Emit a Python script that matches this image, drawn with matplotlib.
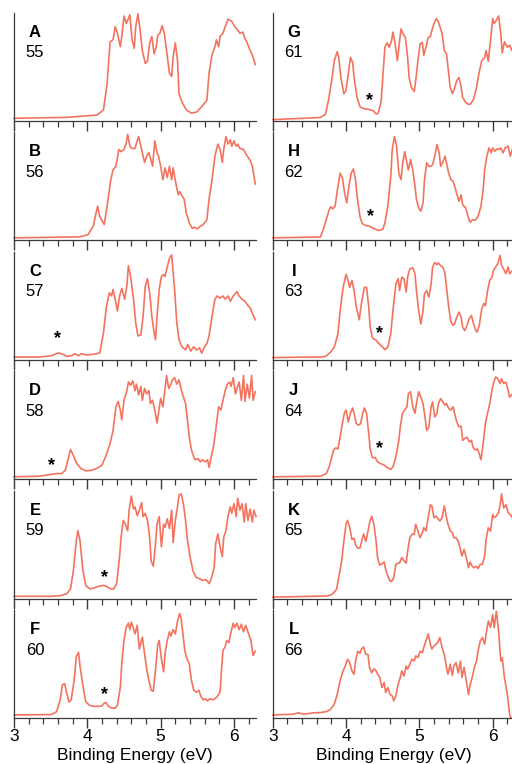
import matplotlib
matplotlib.use("Agg")
import matplotlib.pyplot as plt
from matplotlib.ticker import MultipleLocator

plt.rcParams['font.family'] = ['Liberation Sans', 'DejaVu Sans']

# panel letters and cluster sizes
letters = ["A", "B", "C", "D", "E", "F", "G", "H", "I", "J", "K", "L"]
sizes = [55, 56, 57, 58, 59, 60, 61, 62, 63, 64, 65, 66]

# spectra: binding energy (eV) and relative intensity
a_e = [3.00, 3.72, 4.13, 4.22, 4.27, 4.31, 4.35, 4.38, 4.41, 4.45, 4.47, 4.50, 4.53, 4.55, 4.58, 4.61, 4.64, 4.66, 4.69, 4.72, 4.75, 4.79, 4.82, 4.85, 4.88, 4.91, 4.94, 4.96, 4.99, 5.02, 5.05, 5.08, 5.12, 5.15, 5.17, 5.20, 5.23, 5.25, 5.30, 5.35, 5.42, 5.49, 5.56, 5.63, 5.66, 5.70, 5.74, 5.76, 5.79, 5.81, 5.85, 5.88, 5.92, 5.97, 6.01, 6.05, 6.08, 6.12, 6.15, 6.18, 6.22, 6.25, 6.29]
a_i = [2.2, 3.1, 5.2, 9.9, 34.6, 73, 75, 87, 81, 68.5, 78, 97, 90, 93, 98, 75, 67, 87, 99, 84, 65, 53, 55, 72, 78, 62, 68.5, 79, 81, 88, 81, 65, 44, 41, 59, 72, 56, 25, 16, 10, 7, 8, 13, 19, 44, 61, 68.5, 75, 68.5, 78, 81, 87, 94, 92, 87, 84, 81, 82, 76, 72, 65, 61, 52]

b_e = [3.00, 3.90, 4.01, 4.08, 4.14, 4.17, 4.23, 4.27, 4.32, 4.35, 4.39, 4.43, 4.46, 4.50, 4.53, 4.55, 4.58, 4.61, 4.65, 4.67, 4.70, 4.73, 4.75, 4.78, 4.81, 4.84, 4.86, 4.89, 4.92, 4.95, 4.97, 5.00, 5.03, 5.06, 5.09, 5.12, 5.15, 5.17, 5.20, 5.24, 5.26, 5.29, 5.32, 5.35, 5.39, 5.43, 5.46, 5.50, 5.54, 5.58, 5.63, 5.66, 5.70, 5.74, 5.78, 5.81, 5.84, 5.86, 5.89, 5.92, 5.95, 5.97, 6.00, 6.03, 6.05, 6.08, 6.13, 6.17, 6.22, 6.25, 6.29]
b_i = [2.2, 3.1, 5.2, 13, 31.5, 22, 14.5, 31.5, 56, 65, 68.5, 84, 82, 84, 90, 98, 87, 85, 85, 90, 96, 87, 81, 72, 78, 81, 76, 68.5, 92, 81, 78, 68.5, 56, 67, 58, 68.5, 56, 67, 55, 42, 45, 41, 38, 25, 16, 11, 12, 10.5, 13, 14.5, 19, 38, 56, 78, 89, 84, 72, 84, 96, 89, 93, 87, 92, 87, 89, 85, 84, 79, 74, 68.5, 52]

c_e = [3.00, 3.35, 3.51, 3.60, 3.65, 3.72, 3.79, 3.83, 3.88, 3.92, 3.99, 4.10, 4.17, 4.22, 4.26, 4.30, 4.33, 4.35, 4.38, 4.41, 4.44, 4.47, 4.51, 4.54, 4.56, 4.59, 4.63, 4.66, 4.69, 4.73, 4.76, 4.79, 4.82, 4.85, 4.88, 4.91, 4.93, 4.95, 4.98, 5.01, 5.04, 5.06, 5.09, 5.12, 5.15, 5.16, 5.19, 5.22, 5.25, 5.29, 5.34, 5.37, 5.41, 5.45, 5.49, 5.53, 5.56, 5.59, 5.63, 5.66, 5.70, 5.74, 5.77, 5.81, 5.85, 5.88, 5.92, 5.95, 5.99, 6.04, 6.07, 6.11, 6.15, 6.18, 6.22, 6.25, 6.29]
c_i = [2.5, 2.5, 3.7, 6.2, 5.6, 3.1, 3.7, 5.6, 3.7, 5.6, 4.3, 5.2, 6.2, 25, 49, 62, 59, 65, 56, 45, 59, 66, 56, 69, 87, 77, 56, 34, 22, 23, 40, 68, 75, 62, 40, 25, 18.5, 40, 65, 77, 79, 77, 86, 94, 97, 89, 65, 34, 18.5, 12, 9, 14, 8, 12, 9, 11, 6, 11, 15, 22, 40, 56, 59, 57, 59, 56, 59, 54, 59, 63, 59, 56, 54, 51, 48, 43, 37]

d_e = [3.00, 3.35, 3.49, 3.58, 3.65, 3.70, 3.74, 3.77, 3.81, 3.85, 3.91, 3.98, 4.06, 4.13, 4.20, 4.25, 4.31, 4.35, 4.39, 4.42, 4.45, 4.47, 4.50, 4.54, 4.56, 4.59, 4.62, 4.65, 4.67, 4.70, 4.73, 4.75, 4.78, 4.81, 4.84, 4.86, 4.89, 4.92, 4.95, 4.97, 5.00, 5.03, 5.05, 5.08, 5.11, 5.14, 5.16, 5.19, 5.22, 5.25, 5.27, 5.30, 5.34, 5.36, 5.39, 5.42, 5.45, 5.47, 5.51, 5.54, 5.57, 5.61, 5.64, 5.66, 5.69, 5.72, 5.75, 5.79, 5.82, 5.85, 5.88, 5.91, 5.94, 5.96, 5.99, 6.02, 6.05, 6.07, 6.10, 6.13, 6.15, 6.18, 6.21, 6.24, 6.26, 6.29]
d_i = [2.2, 2.8, 4.3, 5.2, 5.2, 8.3, 19, 27.5, 22, 15, 10, 7.7, 8.3, 10, 13, 21, 33, 45, 67, 72, 64, 55, 73, 82, 90, 87, 91, 82, 88, 78, 86, 73, 84, 79, 82, 70, 73, 64, 52, 61, 75, 67, 78, 96, 84, 88, 92, 94, 88, 92, 86, 78, 70, 58, 39, 27, 21, 18, 19, 16, 18, 16, 18, 11, 21, 30, 45, 67, 64, 73, 82, 88, 90, 86, 94, 79, 86, 90, 73, 96, 72, 88, 75, 96, 73, 81]

e_e = [3.00, 3.49, 3.63, 3.72, 3.77, 3.81, 3.85, 3.87, 3.90, 3.94, 3.98, 4.04, 4.09, 4.15, 4.22, 4.26, 4.32, 4.36, 4.40, 4.44, 4.46, 4.49, 4.52, 4.55, 4.57, 4.60, 4.63, 4.65, 4.68, 4.71, 4.74, 4.76, 4.79, 4.82, 4.85, 4.87, 4.90, 4.93, 4.95, 4.98, 5.01, 5.04, 5.06, 5.09, 5.12, 5.15, 5.17, 5.20, 5.23, 5.25, 5.28, 5.31, 5.34, 5.36, 5.40, 5.44, 5.48, 5.53, 5.57, 5.62, 5.66, 5.69, 5.73, 5.75, 5.78, 5.81, 5.84, 5.86, 5.89, 5.92, 5.95, 5.97, 6.00, 6.03, 6.05, 6.08, 6.11, 6.14, 6.16, 6.19, 6.22, 6.25, 6.27, 6.30]
e_i = [2.2, 2.2, 2.8, 4.6, 9, 26, 54, 63, 54, 26, 12, 9, 10, 11.4, 12.3, 11.4, 9, 9, 14, 39, 57, 72.5, 69, 63, 82, 95, 83, 85, 77, 82, 89, 76, 79, 72.5, 57, 35, 30, 51, 69, 76, 48, 69, 66, 74, 65, 82, 52, 72.5, 85, 96, 97, 88, 72.5, 57, 39, 26, 20, 18.5, 17, 17.6, 14, 18.5, 29, 51, 60, 48, 39, 57, 63, 77, 85, 79, 88, 76, 93, 82, 88, 71, 88, 72.5, 83, 71, 82, 76]

f_e = [3.00, 3.51, 3.58, 3.63, 3.66, 3.69, 3.72, 3.75, 3.78, 3.82, 3.85, 3.88, 3.90, 3.95, 3.98, 4.03, 4.08, 4.15, 4.20, 4.23, 4.25, 4.29, 4.33, 4.38, 4.41, 4.45, 4.47, 4.50, 4.53, 4.56, 4.58, 4.60, 4.62, 4.65, 4.68, 4.71, 4.73, 4.75, 4.78, 4.81, 4.84, 4.87, 4.90, 4.93, 4.96, 4.98, 5.01, 5.04, 5.06, 5.09, 5.12, 5.14, 5.17, 5.20, 5.23, 5.26, 5.28, 5.30, 5.33, 5.36, 5.39, 5.42, 5.45, 5.49, 5.52, 5.55, 5.58, 5.61, 5.64, 5.67, 5.72, 5.77, 5.81, 5.83, 5.85, 5.88, 5.90, 5.93, 5.96, 5.99, 6.01, 6.04, 6.07, 6.10, 6.13, 6.16, 6.20, 6.23, 6.26, 6.29]
f_i = [3, 3.4, 6, 17, 31, 32, 23, 15, 17, 35, 57, 61, 48, 26, 15, 12, 11, 11, 11.4, 14, 14.5, 11, 9.3, 9.3, 12, 29, 51, 72, 84, 88, 82, 89, 85, 78, 86, 64, 70, 75, 60, 45, 35, 26, 25, 45, 68, 72, 55, 43, 60, 72, 80, 76, 82, 78, 90, 97, 92, 80, 62, 55, 50, 35, 26, 24, 26, 20, 17, 18, 16, 18, 17, 20, 24, 45, 63, 66, 72, 70, 80, 88, 84, 88, 82, 87, 80, 86, 78, 72, 58, 62]

g_e = [3.00, 3.51, 3.65, 3.72, 3.76, 3.81, 3.84, 3.88, 3.90, 3.93, 3.97, 4.00, 4.03, 4.06, 4.09, 4.11, 4.15, 4.19, 4.22, 4.26, 4.30, 4.33, 4.37, 4.41, 4.44, 4.48, 4.51, 4.53, 4.56, 4.59, 4.62, 4.64, 4.67, 4.70, 4.73, 4.75, 4.78, 4.81, 4.84, 4.86, 4.89, 4.93, 4.95, 4.98, 5.01, 5.04, 5.06, 5.09, 5.12, 5.15, 5.17, 5.20, 5.23, 5.26, 5.28, 5.31, 5.34, 5.37, 5.39, 5.42, 5.45, 5.47, 5.51, 5.54, 5.57, 5.59, 5.63, 5.67, 5.70, 5.74, 5.78, 5.81, 5.85, 5.89, 5.91, 5.94, 5.97, 6.00, 6.02, 6.05, 6.08, 6.11, 6.13, 6.16, 6.20, 6.23, 6.26, 6.30]
g_i = [1, 2.5, 3, 6, 18.5, 40, 55.5, 64, 58.6, 40, 25, 28, 43, 58.6, 54, 40, 21.6, 13, 11.7, 10.8, 10.8, 9.9, 9.3, 6.2, 7, 18.5, 49, 68, 72, 68, 74, 82, 71, 55.5, 74, 85, 80, 77, 58.6, 40, 31, 27, 37, 55.5, 71, 72.5, 60.5, 68, 77, 78, 83.5, 90, 94.6, 91.6, 87, 80.7, 65, 62, 49.7, 31, 25, 28, 37, 40, 31, 21.6, 17, 15, 15.5, 20, 31, 43, 55.5, 58.6, 65, 55, 74, 94.6, 90, 93, 97, 80.7, 62.7, 73, 68, 70, 65, 70]

h_e = [3.00, 3.65, 3.69, 3.73, 3.77, 3.79, 3.82, 3.85, 3.89, 3.92, 3.95, 3.98, 4.01, 4.04, 4.07, 4.10, 4.13, 4.15, 4.19, 4.22, 4.27, 4.32, 4.36, 4.41, 4.45, 4.50, 4.53, 4.57, 4.61, 4.63, 4.66, 4.69, 4.72, 4.75, 4.77, 4.80, 4.83, 4.85, 4.88, 4.91, 4.94, 4.96, 4.99, 5.02, 5.05, 5.07, 5.10, 5.13, 5.16, 5.18, 5.21, 5.24, 5.27, 5.29, 5.32, 5.35, 5.37, 5.40, 5.43, 5.46, 5.48, 5.51, 5.54, 5.57, 5.59, 5.63, 5.67, 5.69, 5.73, 5.76, 5.80, 5.84, 5.87, 5.89, 5.92, 5.95, 5.98, 6.00, 6.03, 6.06, 6.09, 6.11, 6.14, 6.17, 6.21, 6.24, 6.28]
h_i = [2.2, 3, 10, 19, 28, 31, 29, 31.5, 50, 62, 58, 44, 34.6, 50, 62, 66, 56, 40.7, 22, 15.4, 13.6, 13, 11.4, 9.9, 9, 9.9, 16, 31.5, 59, 84, 96, 87, 62, 56, 70, 82, 71.6, 65, 74.7, 65, 50, 37.7, 30, 26.9, 34.6, 56, 71.6, 68.5, 68.5, 70, 77.8, 88.6, 80.9, 68.5, 72.2, 77.8, 71.6, 62, 56, 54.6, 50, 43, 36, 42, 33, 30, 20.7, 16.7, 19, 18.5, 22, 31.5, 47, 65, 77.8, 85.5, 80.9, 85.5, 82.4, 84.6, 84, 85.5, 80.9, 85.5, 87, 77.8, 87]

i_e = [3.00, 3.65, 3.72, 3.79, 3.84, 3.89, 3.92, 3.96, 4.00, 4.02, 4.05, 4.08, 4.11, 4.14, 4.18, 4.21, 4.25, 4.28, 4.31, 4.33, 4.36, 4.41, 4.45, 4.50, 4.53, 4.57, 4.61, 4.64, 4.68, 4.71, 4.73, 4.76, 4.79, 4.82, 4.84, 4.87, 4.91, 4.94, 4.96, 4.99, 5.02, 5.05, 5.07, 5.10, 5.13, 5.16, 5.18, 5.21, 5.24, 5.26, 5.29, 5.32, 5.35, 5.37, 5.40, 5.43, 5.46, 5.48, 5.51, 5.54, 5.57, 5.59, 5.62, 5.65, 5.68, 5.71, 5.74, 5.77, 5.79, 5.82, 5.85, 5.88, 5.90, 5.93, 5.96, 5.99, 6.01, 6.04, 6.07, 6.10, 6.12, 6.15, 6.18, 6.21, 6.23, 6.27]
i_i = [2, 2.5, 3, 7, 11.7, 24, 45.7, 67, 79, 75, 67, 73.5, 64, 48.8, 37, 52, 67, 67, 48.8, 30, 20, 18, 14.8, 11.7, 9.3, 11.7, 24, 45.7, 70, 75, 64, 76.5, 75, 62.7, 76.5, 84, 85, 79.6, 64, 45.7, 33, 45.7, 61, 64, 58, 70, 85.8, 90, 88, 89.5, 87, 85.8, 79.6, 67, 48.8, 35, 31.8, 33, 39.5, 44, 39.5, 30, 27, 31.8, 38, 41, 33, 27, 25.6, 33, 47, 52, 50, 64, 73.5, 76.5, 82.7, 85.8, 89, 96.6, 87.6, 84, 79.6, 85.8, 79.6, 82.7]

j_e = [3.00, 3.65, 3.73, 3.77, 3.80, 3.83, 3.86, 3.89, 3.92, 3.95, 3.98, 4.00, 4.03, 4.06, 4.09, 4.11, 4.14, 4.17, 4.20, 4.22, 4.25, 4.28, 4.31, 4.33, 4.36, 4.40, 4.43, 4.47, 4.52, 4.56, 4.61, 4.64, 4.68, 4.72, 4.74, 4.77, 4.80, 4.83, 4.85, 4.88, 4.91, 4.94, 4.96, 4.99, 5.02, 5.05, 5.07, 5.10, 5.13, 5.16, 5.18, 5.21, 5.24, 5.26, 5.29, 5.32, 5.35, 5.37, 5.40, 5.43, 5.46, 5.48, 5.51, 5.54, 5.57, 5.59, 5.62, 5.65, 5.68, 5.71, 5.73, 5.76, 5.79, 5.81, 5.84, 5.87, 5.90, 5.93, 5.96, 5.99, 6.01, 6.04, 6.07, 6.10, 6.12, 6.15, 6.18, 6.21, 6.23, 6.27]
j_i = [2.2, 2.8, 5, 11.4, 19, 27, 29, 28, 39, 51.5, 62, 64, 53, 61, 66, 61, 51.5, 50, 51.5, 59, 66, 61, 42, 27.5, 20, 20, 16, 14.5, 13, 10.8, 9, 11.4, 20.7, 36, 48.5, 61, 64, 67, 79, 81, 67, 61, 70, 81, 76, 70, 61, 45, 48.5, 67, 71.6, 57.7, 61, 70, 74.7, 71.6, 68.5, 70, 65.4, 64, 67, 61, 53, 48.5, 49, 36, 37.7, 39, 34.6, 36, 30, 27, 28, 25, 18, 33, 51.5, 61, 70, 82.4, 88.6, 94.7, 93, 88.6, 93, 88.6, 90, 82.4, 76, 79]

k_e = [3.00, 3.51, 3.74, 3.81, 3.87, 3.90, 3.94, 3.97, 4.00, 4.02, 4.05, 4.08, 4.11, 4.13, 4.16, 4.19, 4.22, 4.24, 4.27, 4.30, 4.32, 4.35, 4.38, 4.41, 4.43, 4.46, 4.49, 4.52, 4.54, 4.57, 4.60, 4.62, 4.65, 4.68, 4.71, 4.73, 4.76, 4.79, 4.82, 4.84, 4.87, 4.90, 4.93, 4.95, 4.98, 5.01, 5.04, 5.06, 5.09, 5.12, 5.15, 5.17, 5.20, 5.23, 5.26, 5.28, 5.31, 5.34, 5.37, 5.39, 5.42, 5.45, 5.47, 5.50, 5.53, 5.56, 5.58, 5.61, 5.64, 5.67, 5.69, 5.72, 5.75, 5.78, 5.80, 5.83, 5.86, 5.89, 5.91, 5.94, 5.97, 6.00, 6.02, 6.05, 6.08, 6.11, 6.12, 6.15, 6.18, 6.21, 6.24, 6.28]
k_i = [1.5, 2.2, 2.5, 4, 8.6, 19.4, 35, 53, 69, 72.5, 66, 55, 56, 50, 46.6, 47, 55, 60, 53, 62.7, 70, 76.5, 69, 53, 38, 31, 32.4, 34, 27, 21, 16.4, 15.7, 19.4, 31.8, 33, 33, 38, 35, 33, 44, 56.5, 59.6, 59.6, 69, 62.7, 56.5, 61, 65.7, 62.7, 75, 87, 86, 75, 76.5, 73.5, 72, 75, 86, 75, 69, 63, 61, 56.5, 56.5, 53, 45.7, 39.5, 45.7, 38, 28.7, 34, 30, 28.7, 30, 28, 31.8, 31.8, 39.5, 55, 65.7, 62.7, 78, 75, 76.5, 79.6, 90.4, 97, 84, 87, 79.6, 78, 73.5]

l_e = [3.00, 3.28, 3.35, 3.42, 3.56, 3.65, 3.74, 3.79, 3.84, 3.88, 3.92, 3.95, 3.99, 4.02, 4.05, 4.08, 4.11, 4.13, 4.16, 4.19, 4.21, 4.24, 4.27, 4.30, 4.32, 4.35, 4.38, 4.41, 4.43, 4.46, 4.49, 4.52, 4.54, 4.57, 4.60, 4.63, 4.65, 4.68, 4.71, 4.74, 4.76, 4.79, 4.82, 4.84, 4.87, 4.90, 4.93, 4.95, 4.98, 5.01, 5.04, 5.06, 5.09, 5.12, 5.15, 5.17, 5.20, 5.23, 5.26, 5.28, 5.31, 5.34, 5.37, 5.39, 5.42, 5.45, 5.47, 5.50, 5.53, 5.56, 5.58, 5.61, 5.64, 5.67, 5.69, 5.72, 5.75, 5.78, 5.80, 5.83, 5.86, 5.89, 5.91, 5.94, 5.97, 6.00, 6.02, 6.05, 6.08, 6.11, 6.13, 6.16, 6.20, 6.23, 6.25]
l_i = [3, 3.7, 5, 3.7, 5, 5.2, 6.2, 8.3, 13, 22, 34.6, 42, 48.5, 54.6, 51.5, 43.8, 40.7, 53, 62, 60, 64, 66, 59, 59, 47, 42, 45.7, 44, 40.7, 37.7, 28.4, 33, 23.8, 28.4, 22, 20.7, 16, 20.7, 31.5, 37.7, 43.8, 39, 48.5, 45.4, 50, 54.6, 53, 57.7, 56, 62, 60.5, 65.4, 71.6, 78, 68.5, 64, 67, 68.5, 71.6, 74.7, 65.4, 59, 47, 40.7, 50, 39.5, 48.5, 51.5, 42, 53, 37.7, 47, 34.6, 22, 30, 37.7, 47, 53, 62, 71.6, 74.7, 68.5, 78, 90, 84, 96, 84, 99, 81, 53, 56, 37.7, 22, 3.7, 0]

# asterisk marks (energy, height), None where the panel has none
stars = [None, None, (3.60, 20), (3.51, 13), (4.24, 20), (4.24, 22),
         (4.32, 19), (4.33, 22), (4.45, 24), (4.46, 28), None, None]

spectra = [(a_e, a_i), (b_e, b_i), (c_e, c_i), (d_e, d_i), (e_e, e_i), (f_e, f_i),
           (g_e, g_i), (h_e, h_i), (i_e, i_i), (j_e, j_i), (k_e, k_i), (l_e, l_i)]

line_col = "#f4735f"
axis_col = "#3a3a3a"

fig = plt.figure(figsize=(5.12, 7.64), dpi=100)
W, H = 512.0, 764.0

for n in range(12):
    col = n // 6
    row = n % 6
    bottom_px = 120.7 + row * 119.5
    left_px = 14 if col == 0 else 272.7
    ax = fig.add_axes([left_px / W, 1 - bottom_px / H, 242 / W, 108 / H])
    e, inten = spectra[n]
    ax.plot(e, inten, color=line_col, lw=1.2, clip_on=False)
    ax.set_xlim(3, 6.3)
    ax.set_ylim(0, 100)
    ax.patch.set_alpha(0)
    for s in ["top", "right"]:
        ax.spines[s].set_visible(False)
    for s in ["left", "bottom"]:
        ax.spines[s].set_color(axis_col)
        ax.spines[s].set_linewidth(0.9)
    ax.set_yticks([])
    ax.xaxis.set_major_locator(MultipleLocator(1))
    ax.xaxis.set_minor_locator(MultipleLocator(0.2))
    ax.tick_params(axis="x", which="major", direction="out", length=7, width=1.0,
                   color=axis_col, labelsize=12.5, pad=1)
    ax.tick_params(axis="x", which="minor", direction="out", length=4, width=0.9,
                   color=axis_col)
    if row < 5:
        ax.tick_params(axis="x", labelbottom=False)
    else:
        ax.set_xlabel("Binding Energy (eV)", fontsize=12.5, labelpad=3)
    ax.text(0.087, 0.82, letters[n], transform=ax.transAxes, ha="center", va="center",
            fontsize=12, fontweight="bold")
    ax.text(0.087, 0.63, str(sizes[n]), transform=ax.transAxes, ha="center",
            va="center", fontsize=12)
    if stars[n] is not None:
        ax.text(stars[n][0], stars[n][1], "*", ha="center", va="center",
                fontsize=13, fontweight="bold")

fig.savefig("out.png", dpi=100)
